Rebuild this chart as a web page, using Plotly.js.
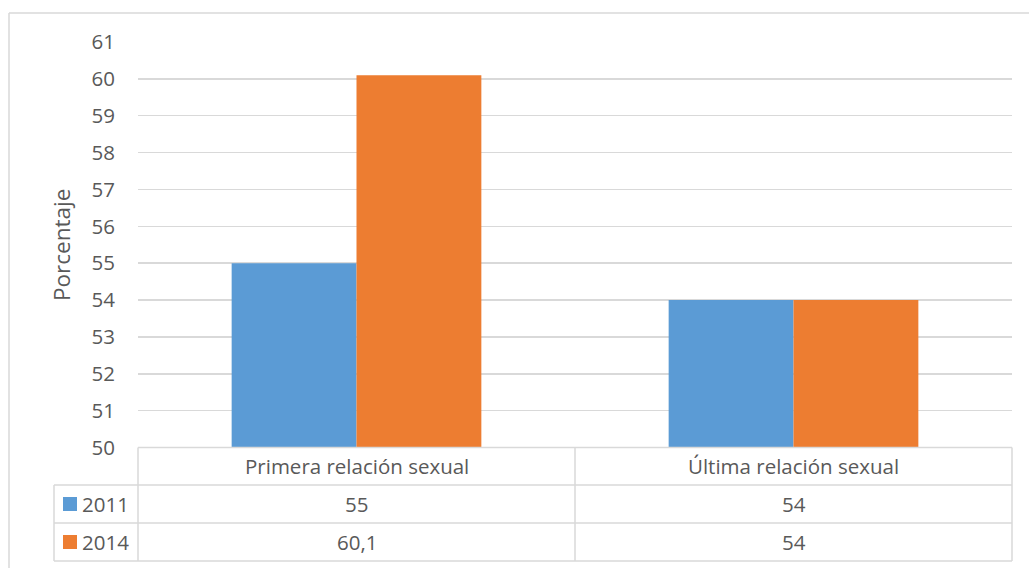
<!DOCTYPE html>
<html>
<head>
<meta charset="utf-8">
<script src="https://cdn.plot.ly/plotly-3.0.1.min.js"></script>
<style>html,body{margin:0;padding:0;background:#fff;}#chart{width:1029px;height:568px;}</style>
</head>
<body>
<div id="chart"></div>
<script>
const categories = ["Primera relación sexual", "Última relación sexual"];
const seriesNames = ["2011", "2014"];
const values2011 = [55, 54];
const values2014 = [60.1, 54];
const colors = ["#5B9BD5", "#ED7D31"];
const yTicks = [50, 51, 52, 53, 54, 55, 56, 57, 58, 59, 60, 61];
const yTitle = "Porcentaje";

const W = 1029, H = 568;
const px = x => x / W;
const py = y => 1 - y / H;

// layout geometry (pixels)
const plotL = 138, plotR = 1012, plotT = 42, plotB = 447.5;
const tabLeft = 54;
const rowY = [447.5, 485, 523, 561];
const FONT = "Open Sans";
const FS = 20.5;
const TXT = "#595959";
const LINE = "#D9D9D9";

const fmt = v => String(v).replace(".", ",");

const allSeries = [values2011, values2014];
const traces = allSeries.map((vals, i) => ({
  type: "bar",
  name: seriesNames[i],
  x: categories,
  y: vals,
  marker: {color: colors[i]},
  hoverinfo: "skip"
}));

const shapes = [];
const annotations = [];
const line = (x0, y0, x1, y1) => shapes.push({type: "line", xref: "paper", yref: "paper",
  x0: px(x0), y0: py(y0), x1: px(x1), y1: py(y1), line: {color: LINE, width: 1.5}});

// outer chart border
line(9, 13, 1040, 13);
line(9, 13, 9, 600);

// data table lines
line(plotL, rowY[0], plotR, rowY[0]);
for (let r = 1; r < rowY.length; r++) line(tabLeft, rowY[r], plotR, rowY[r]);
line(tabLeft, rowY[1], tabLeft, rowY[3]);
const catW = (plotR - plotL) / categories.length;
for (let c = 0; c <= categories.length; c++) line(plotL + c * catW, rowY[0], plotL + c * catW, rowY[3]);

// axis title
annotations.push({xref: "paper", yref: "paper", x: px(62), y: py(245), text: yTitle, textangle: -90,
  showarrow: false, xanchor: "center", yanchor: "middle", font: {family: FONT, size: 22.5, color: TXT}});

// header labels
categories.forEach((cat, c) => {
  annotations.push({xref: "paper", yref: "paper", x: px(plotL + (c + 0.5) * catW), y: py((rowY[0] + rowY[1]) / 2),
    text: cat, showarrow: false, xanchor: "center", yanchor: "middle", font: {family: FONT, size: FS, color: TXT}});
});
// series rows
allSeries.forEach((vals, s) => {
  const yc = (rowY[s + 1] + rowY[s + 2]) / 2;
  shapes.push({type: "rect", xref: "paper", yref: "paper", x0: px(63), x1: px(77), y0: py(yc - 7), y1: py(yc + 7),
    fillcolor: colors[s], line: {width: 0}});
  annotations.push({xref: "paper", yref: "paper", x: px(80), y: py(yc), text: seriesNames[s], showarrow: false,
    xanchor: "left", yanchor: "middle", font: {family: FONT, size: FS, color: TXT}});
  vals.forEach((v, c) => {
    annotations.push({xref: "paper", yref: "paper", x: px(plotL + (c + 0.5) * catW), y: py(yc), text: fmt(v),
      showarrow: false, xanchor: "center", yanchor: "middle", font: {family: FONT, size: FS, color: TXT}});
  });
});

const layout = {
  width: W, height: H,
  margin: {l: 0, r: 0, t: 0, b: 0},
  paper_bgcolor: "#fff", plot_bgcolor: "#fff",
  showlegend: false,
  barmode: "group",
  bargap: 0.4286,
  bargroupgap: 0,
  font: {family: FONT, color: TXT},
  xaxis: {domain: [px(plotL), px(plotR)], type: "category", showticklabels: false, showgrid: false,
    zeroline: false, showline: false, ticks: ""},
  yaxis: {domain: [py(plotB), py(plotT)], range: [50, 61], tickvals: yTicks, ticktext: yTicks.map(String),
    showgrid: true, gridcolor: LINE, gridwidth: 1.5, zeroline: false, showline: false, ticks: "",
    ticklabelstandoff: 22, tickfont: {family: FONT, size: FS, color: TXT}},
  shapes: shapes,
  annotations: annotations
};

Plotly.newPlot("chart", traces, layout, {displayModeBar: false, staticPlot: true});
</script>
</body>
</html>
